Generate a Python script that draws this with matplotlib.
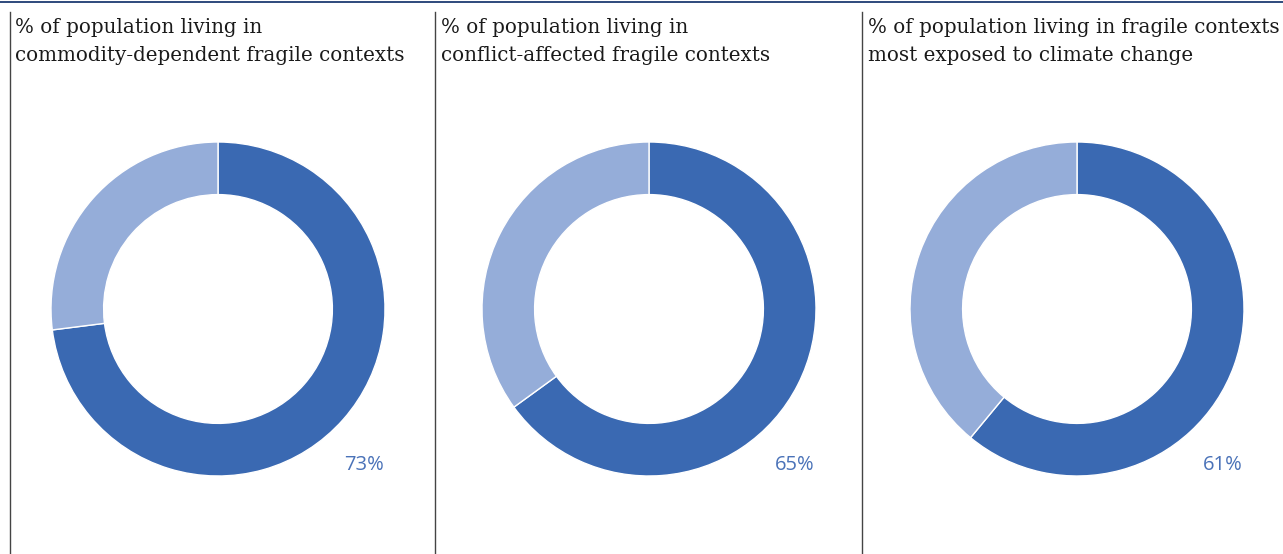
import matplotlib.pyplot as plt
from matplotlib.lines import Line2D

titles = [
    "% of population living in\ncommodity-dependent fragile contexts",
    "% of population living in\nconflict-affected fragile contexts",
    "% of population living in fragile contexts\nmost exposed to climate change",
]
shares = [73, 65, 61]

dark = "#3a69b2"
light = "#95add9"
label_col = "#4a72b8"

W, H = 1283, 554
fig = plt.figure(figsize=(W / 100, H / 100), dpi=100)
fig.patch.set_facecolor("white")

# top rule
fig.add_artist(Line2D([0, 1], [1 - 2 / H, 1 - 2 / H], color="#2d4a7c", lw=1.4))

sep_x = [10, 435, 862]
title_x = [15, 441, 868]
centers_x = [218, 649, 1077]
cy = 309
r = 167

for i in range(3):
    x0 = sep_x[i]
    fig.add_artist(Line2D([x0 / W, x0 / W], [0, 1 - 12 / H], color="#444444", lw=1))
    # baseline of the last title line
    fig.text(title_x[i] / W, 1 - 61 / H, titles[i], ha="left", va="baseline",
             fontsize=14.3, family="DejaVu Serif", color="#1a1a1a", linespacing=1.62)

    cx = centers_x[i]
    ax = fig.add_axes([(cx - r) / W, (H - cy - r) / H, 2 * r / W, 2 * r / H])
    ax.pie([shares[i], 100 - shares[i]], startangle=90, counterclock=False,
           colors=[dark, light],
           wedgeprops=dict(width=0.315, edgecolor="white", linewidth=1))
    ax.set_xlim(-1, 1)
    ax.set_ylim(-1, 1)
    ax.set_aspect("equal")
    ax.axis("off")

    fig.text((cx + 146) / W, 1 - 465 / H, f"{shares[i]}%", ha="center", va="center",
             fontsize=14.5, family="Open Sans", color=label_col)

fig.savefig("out.png", dpi=100, facecolor="white")
